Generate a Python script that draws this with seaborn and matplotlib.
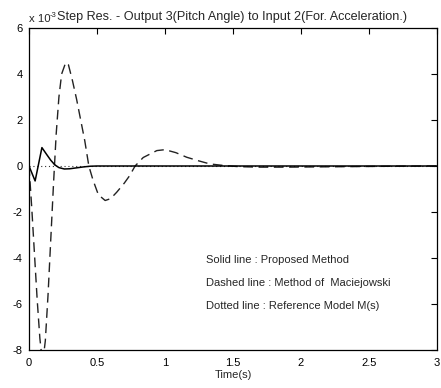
import matplotlib
matplotlib.use("Agg")
import matplotlib.pyplot as plt
import seaborn as sns
import pandas as pd

# Data (response values in units of 1e-3)
t_solid = [0, 0.045, 0.095, 0.13, 0.16, 0.19, 0.22, 0.26, 0.30, 0.35, 0.40, 0.45, 0.5, 1.0, 2.0, 3.0]
y_solid = [0, -0.65, 0.8, 0.5, 0.25, 0.05, -0.07, -0.13, -0.12, -0.08, -0.04, -0.01, 0.0, 0.0, 0.0, 0.0]

t_dashed = [0, 0.02, 0.04, 0.06, 0.08, 0.10, 0.12, 0.14, 0.16, 0.18, 0.20, 0.22, 0.24, 0.27,
            0.29, 0.32, 0.35, 0.38, 0.41, 0.44, 0.47, 0.51, 0.56, 0.60, 0.645, 0.70, 0.74, 0.78,
            0.84, 0.94, 1.0, 1.08, 1.16, 1.25, 1.33, 1.45, 1.55, 1.7, 1.9, 2.1, 2.3, 2.5, 2.7, 3.0]
y_dashed = [0, -1.8, -3.8, -5.8, -7.5, -8.6, -7.6, -5.6, -3.2, -0.8, 1.4, 3.0, 4.0, 4.5,
            4.4, 3.7, 2.9, 2.0, 1.1, 0.0, -0.6, -1.25, -1.5, -1.42, -1.14, -0.75, -0.42, 0.0,
            0.37, 0.67, 0.71, 0.58, 0.38, 0.22, 0.09, 0.01, -0.03, -0.05, -0.05, -0.04, -0.03, -0.02, -0.01, 0.0]

t_dotted = [0, 3.0]
y_dotted = [0, 0]

x_ticks = [0, 0.5, 1, 1.5, 2, 2.5, 3]
x_tick_labels = ["0", "0.5", "1", "1.5", "2", "2.5", "3"]
y_ticks = [-8, -6, -4, -2, 0, 2, 4, 6]
y_tick_labels = ["-8", "-6", "-4", "-2", "0", "2", "4", "6"]

title = "Step Res. - Output 3(Pitch Angle) to Input 2(For. Acceleration.)"
notes = ["Solid line : Proposed Method",
         "Dashed line : Method of  Maciejowski",
         "Dotted line : Reference Model M(s)"]
note_y = [-4.1, -5.1, -6.1]

sns.set_style("white")
plt.rcParams['font.family'] = ['Liberation Sans', 'DejaVu Sans']

fig = plt.figure(figsize=(4.41, 3.88), dpi=100)
ax = fig.add_axes([29/441, 1 - 350/388, (437 - 29)/441, (350 - 28)/388])

df_s = pd.DataFrame({"t": t_solid, "y": y_solid})
df_d = pd.DataFrame({"t": t_dashed, "y": y_dashed})
df_o = pd.DataFrame({"t": t_dotted, "y": y_dotted})

sns.lineplot(data=df_o, x="t", y="y", ax=ax, color="#333333", lw=0.8, linestyle=(0, (1, 2.5)), sort=False)
sns.lineplot(data=df_d, x="t", y="y", ax=ax, color="#222222", lw=1.0, linestyle=(0, (7, 4)), sort=False)
sns.lineplot(data=df_s, x="t", y="y", ax=ax, color="black", lw=1.1, sort=False)

ax.set_xlim(0, 3)
ax.set_ylim(-8, 6)
ax.set_xticks(x_ticks)
ax.set_xticklabels(x_tick_labels)
ax.set_yticks(y_ticks)
ax.set_yticklabels(y_tick_labels)
ax.tick_params(direction="in", length=4, width=0.8, top=True, right=True,
               labelsize=8, colors="black")
ax.tick_params(axis="x", pad=5.5)
ax.tick_params(axis="y", pad=4.5)
for sp in ax.spines.values():
    sp.set_visible(True)
    sp.set_color("black")
    sp.set_linewidth(0.9)

ax.set_xlabel("Time(s)", fontsize=8, labelpad=2)
ax.set_ylabel("")

fig.text(29/441, 1 - 22/388, "x 10", fontsize=8.2, ha="left", va="baseline")
fig.text(49.5/441, 1 - 17/388, "-3", fontsize=5.5, ha="left", va="baseline")
fig.text(57/441, 1 - 20/388, title, fontsize=9.1, ha="left", va="baseline")

for s, yy in zip(notes, note_y):
    ax.text(1.30, yy, s, fontsize=8, ha="left", va="center")

fig.savefig("out.png", dpi=100)
